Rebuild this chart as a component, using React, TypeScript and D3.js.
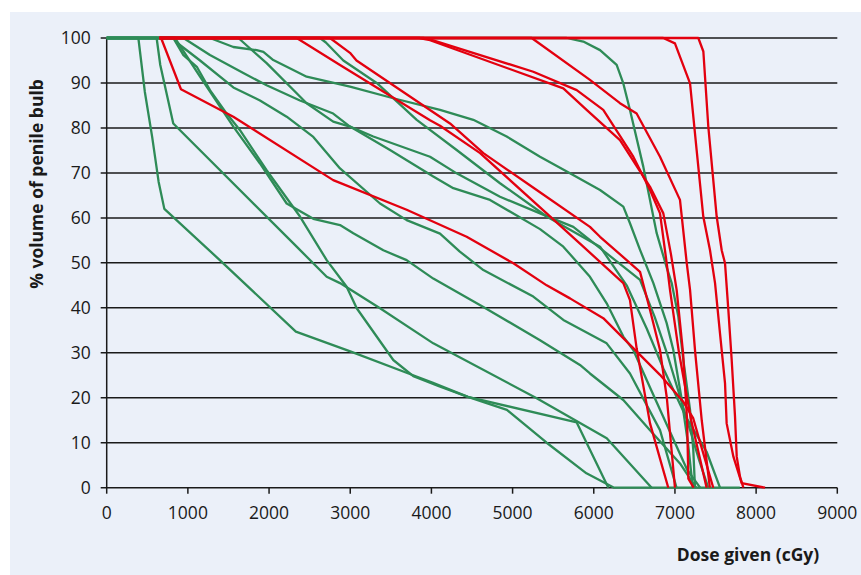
import React from 'react';
import * as d3 from 'd3';

// dose (cGy) , % volume
const greenCurves: number[][][] = [
  [[0,100],[390,100],[470,88],[560,78],[640,68],[710,62],[1400,50.5],[2330,34.7],[3000,30.3],[3775,25],[4020,23.3],[4450,20.2],[4930,17.3],[5420,10],[5910,3.2],[6250,0],[7800,0]],
  [[0,100],[615,100],[660,94],[820,81],[2340,53.6],[2710,46.9],[2874,45.5],[3367,39.9],[4023,32.1],[5297,19.9],[6160,11],[6713,0]],
  [[0,100],[820,100],[945,96.2],[1110,93.6],[1272,88.4],[1478,83.2],[1642,79.5],[1970,70.6],[2381,60.3],[2710,50.6],[2956,44.7],[3080,39.9],[3530,28.4],[3777,24.8],[4100,22.5],[4450,20.2],[5790,14.5],[6180,0]],
  [[0,100],[840,100],[1150,91.4],[1560,80.3],[1888,72.1],[2217,63.2],[2545,59.8],[2874,58.4],[3038,56.6],[3408,52.8],[3695,50.6],[4023,46.5],[4640,40.2],[5338,32.8],[5830,27.3],[5953,25.4],[6364,19.5],[6693,12.8],[7062,5.4],[7260,0]],
  [[0,100],[945,100],[1272,96.2],[1683,92.2],[1970,89.5],[2381,86.1],[2790,83.2],[2997,80.3],[3284,78.1],[3983,73.6],[4311,69.9],[4845,64.7],[5338,61],[5748,58],[6159,52.1],[6570,46.2],[6750,38],[6900,30],[7100,18],[7300,6],[7410,0]],
  [[0,100],[1272,100],[1560,98],[1848,97.3],[1930,96.9],[2052,95.1],[2298,92.9],[2463,91.4],[2997,89.2],[3530,86.6],[4106,84],[4516,81.8],[4927,78.1],[5338,73.6],[5707,69.9],[6077,66.2],[6364,62.5],[6446,58.8],[6570,52.9],[6734,45.5],[6898,36.6],[6980,30.6],[7080,20],[7160,10],[7220,0]],
  [[0,100],[1622,100],[1970,94.4],[2463,85.5],[2790,81.4],[2997,80.3],[3490,75.1],[4023,69.2],[4270,66.6],[4722,64],[5338,57.5],[5625,53.6],[5953,46.9],[6159,41],[6364,33.6],[6487,30.6],[6700,22],[6950,12],[7150,4],[7310,0]],
  [[0,100],[2628,100],[2700,99],[2915,95],[3326,90],[3819,81.8],[4311,75.1],[4845,67.7],[5420,60.3],[6077,53.6],[6405,45],[6652,35.4],[6857,26.5],[7145,15.4],[7390,8],[7555,0]],
  [[0,100],[5666,100],[5871,99.2],[6077,97.3],[6282,94],[6364,89.9],[6446,84],[6610,71.4],[6775,56.6],[6898,49],[6960,45.5],[7042,38],[7103,28.4],[7186,17.3],[7226,8.4],[7247,0]],
  [[0,100],[840,100],[862,99],[1150,95],[1560,89],[1888,86.1],[2217,82.5],[2545,78],[2874,71],[3367,63.2],[3695,59.5],[4106,56.5],[4350,52.5],[4640,48.4],[5255,42.5],[5625,37.3],[6159,32.1],[6446,25.4],[6816,12.8],[7020,0]],
];

const redCurves: number[][][] = [
  [[650,100],[670,100],[915,88.6],[1560,82.5],[2790,68.4],[3695,61.8],[4434,55.8],[5010,49.9],[5420,45],[5707,42.1],[6117,37.7],[6816,25.1],[7103,19.1],[7226,15.4],[7308,10.2],[7472,0]],
  [[650,100],[2340,100],[2874,94],[3983,81.7],[4106,80.5],[4600,74.4],[5420,61],[5871,53.6],[6364,45.5],[6446,41.7],[6528,31],[6693,14.3],[6856,3.9],[6918,0]],
  [[650,100],[2750,100],[2997,96.7],[3077,95],[4229,81],[4640,74.4],[5297,66.2],[5953,58],[6077,55.8],[6570,48],[6693,39.5],[6816,30.6],[6900,20],[6960,8],[7000,0]],
  [[650,100],[3850,100],[3983,99.5],[5625,88.8],[5912,84],[6323,77.3],[6693,66.9],[6857,61],[6950,52],[7021,44],[7100,30],[7150,15],[7165,2],[7230,0]],
  [[650,100],[3900,100],[3983,99.7],[5255,92.5],[5790,88.4],[6117,84],[6487,73.6],[6693,66.2],[6816,61],[6898,50],[6939,44],[7050,30],[7200,15],[7390,0]],
  [[650,100],[5235,100],[5953,90.7],[6323,85.5],[6528,83.2],[6816,73.6],[7062,64],[7145,50],[7186,44],[7250,30],[7330,15],[7430,0]],
  [[650,100],[6856,100],[7000,98.8],[7186,89.9],[7267,75.1],[7349,60.3],[7432,52.8],[7494,45.5],[7555,34.3],[7617,23.2],[7637,14.3],[7720,6.9],[7822,1],[8110,0]],
  [[650,100],[7288,100],[7350,97],[7411,80.3],[7514,60.3],[7576,52.8],[7617,49.9],[7658,39.5],[7699,28.4],[7740,15.8],[7761,6.9],[7802,2.4],[7843,0]],
];

const xTicks = [0, 1000, 2000, 3000, 4000, 5000, 6000, 7000, 8000, 9000];
const yTicks = [0, 10, 20, 30, 40, 50, 60, 70, 80, 90, 100];

const W = 861, H = 575;
const RED = '#e3000f';
const GREEN = '#2e8b57';

export default function App() {
  const x = d3.scaleLinear().domain([0, 9000]).range([106.7, 837.3]);
  const y = d3.scaleLinear().domain([0, 100]).range([487.7, 38]);
  const line = d3.line<number[]>().x(d => x(d[0])).y(d => y(d[1]));
  const font = "'Open Sans', 'Noto Sans', sans-serif";

  return (
    <svg width={W} height={H} style={{ position: 'absolute', left: 0, top: 0 }} fontFamily={font}>
      <rect x={10} y={12} width={W - 10} height={H - 12} fill="#ebf0f9" />
      {yTicks.map(t => (
        <g key={'y' + t}>
          <line x1={x(0) - 6} x2={x(9000)} y1={y(t)} y2={y(t)} stroke="#1a1a1a" strokeWidth={1.5} />
          <text x={x(0) - 16} y={y(t)} dy="0.35em" textAnchor="end" fontSize={17.5} fill="#1a1a1a">{t}</text>
        </g>
      ))}
      <line x1={x(0)} x2={x(0)} y1={y(100)} y2={y(0)} stroke="#1a1a1a" strokeWidth={1.5} />
      {xTicks.map(t => (
        <g key={'x' + t}>
          <line x1={x(t)} x2={x(t)} y1={y(0)} y2={y(0) + 6} stroke="#1a1a1a" strokeWidth={1.5} />
          <text x={x(t)} y={y(0) + 31} textAnchor="middle" fontSize={17.5} fill="#1a1a1a">{t}</text>
        </g>
      ))}
      {greenCurves.map((c, i) => (
        <path key={'g' + i} d={line(c) || ''} fill="none" stroke={GREEN} strokeWidth={2.3} strokeLinejoin="round" />
      ))}
      {redCurves.map((c, i) => (
        <path key={'r' + i} d={line(c) || ''} fill="none" stroke={RED} strokeWidth={2.3} strokeLinejoin="round" />
      ))}
      <text transform={`translate(43,${184}) rotate(-90)`} textAnchor="middle" fontSize={17.5} fontWeight="bold" fill="#1a1a1a">% volume of penile bulb</text>
      <text x={748} y={561} textAnchor="middle" fontSize={17.5} fontWeight="bold" fill="#1a1a1a">Dose given (cGy)</text>
    </svg>
  );
}
